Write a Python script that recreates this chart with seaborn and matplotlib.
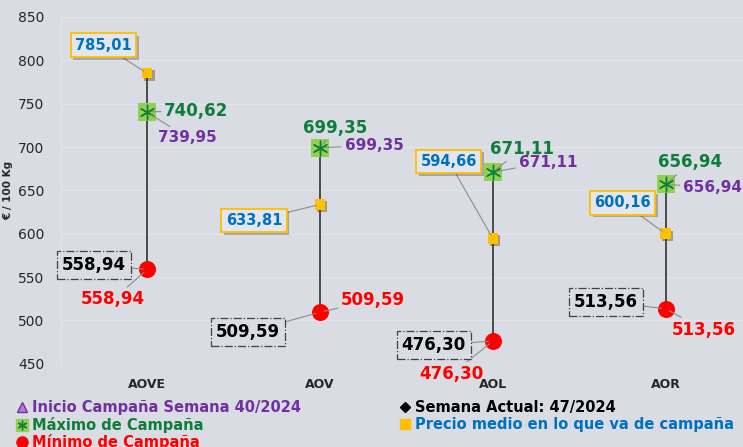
import matplotlib
matplotlib.use('Agg')
import matplotlib.pyplot as plt
import matplotlib.patheffects as pe
from matplotlib.lines import Line2D
import seaborn as sns

categorias = ['AOVE', 'AOV', 'AOL', 'AOR']
inicio = [739.95, 699.35, 671.11, 656.94]
actual = [558.94, 509.59, 476.30, 513.56]
maximo = [740.62, 699.35, 671.11, 656.94]
minimo = [558.94, 509.59, 476.30, 513.56]
medio = [785.01, 633.81, 594.66, 600.16]

BG = '#D9DCE3'
GRID = '#E2E4E9'
VERDE = '#0E7C3A'
MORADO = '#7030A0'
AZUL = '#0070C0'
ROJO = '#FF0000'
NARANJA = '#FFC000'

sns.set_style('whitegrid', {'axes.facecolor': BG, 'figure.facecolor': BG,
                            'grid.color': GRID, 'axes.edgecolor': GRID})
plt.rcParams['font.family'] = ['DejaVu Sans']

fig = plt.figure(figsize=(7.43, 4.47), dpi=100)
ax = fig.add_axes([0.082, 0.186, 0.93, 0.776])

# high-low line through all series
todos = [inicio, actual, maximo, minimo, medio]
bajos = [min(v) for v in zip(*todos)]
altos = [max(v) for v in zip(*todos)]
ax.vlines(range(len(categorias)), bajos, altos, color='#404040', lw=1.3, zorder=2)

sns.scatterplot(x=categorias, y=inicio, marker='^', s=90, color='#B07CE0',
                edgecolor=MORADO, linewidth=0.8, zorder=3, ax=ax)
sns.scatterplot(x=categorias, y=medio, marker='s', s=55, color=NARANJA,
                edgecolor=NARANJA, linewidth=0, zorder=4, ax=ax)
ax.collections[-1].set_path_effects([pe.SimplePatchShadow(offset=(1.5, -1.5), alpha=0.4), pe.Normal()])
sns.scatterplot(x=categorias, y=maximo, marker='s', s=150, color='#92D050',
                edgecolor='#92D050', linewidth=0, zorder=5, ax=ax)
sns.scatterplot(x=categorias, y=maximo, marker=(6, 2, 0), s=110, color=VERDE,
                edgecolor=VERDE, linewidth=1.0, zorder=6, ax=ax)
sns.scatterplot(x=categorias, y=actual, marker='D', s=40, color='black',
                edgecolor='black', zorder=6, ax=ax)
sns.scatterplot(x=categorias, y=minimo, marker='o', s=150, color=ROJO,
                edgecolor=ROJO, linewidth=0, zorder=7, ax=ax)


def fmt(v):
    return f'{v:.2f}'.replace('.', ',')


leader = dict(arrowstyle='-', color='#8C8C8C', lw=0.8, shrinkA=0, shrinkB=3)

off_medio = [(-44, 28), (-66, -16), (-44, 77), (-43, 31)]
off_max = [(49, 1), (15, 20), (29, 23), (25, 22)]
off_inicio = [(40, -25), (54, 2), (55, 10), (47, -3)]
off_min = [(-34, -30), (53, 12), (-41, -33), (38, -21)]
off_actual = [(-53, 4), (-72, -20), (-59, -4), (-60, 7)]

for i in range(len(categorias)):
    a = ax.annotate(fmt(medio[i]), (i, medio[i]), xytext=off_medio[i],
                    textcoords='offset pixels', ha='center', va='center',
                    color=AZUL, fontsize=10.5, fontweight='bold', zorder=8,
                    bbox=dict(boxstyle='square,pad=0.3', fc='#E3E6EC', ec=NARANJA, lw=1.3),
                    arrowprops=leader)
    a.get_bbox_patch().set_path_effects([pe.SimplePatchShadow(offset=(2, -2), alpha=0.35), pe.Normal()])
    ax.annotate(fmt(maximo[i]), (i, maximo[i]), xytext=off_max[i],
                textcoords='offset pixels', ha='center', va='center',
                color=VERDE, fontsize=12, fontweight='bold', zorder=8,
                arrowprops=leader)
    ax.annotate(fmt(inicio[i]), (i, inicio[i]), xytext=off_inicio[i],
                textcoords='offset pixels', ha='center', va='center',
                color=MORADO, fontsize=11, fontweight='bold', zorder=8,
                arrowprops=leader)
    ax.annotate(fmt(minimo[i]), (i, minimo[i]), xytext=off_min[i],
                textcoords='offset pixels', ha='center', va='center',
                color=ROJO, fontsize=12, fontweight='bold', zorder=8,
                arrowprops=leader)
    ax.annotate(fmt(actual[i]), (i, actual[i]), xytext=off_actual[i],
                textcoords='offset pixels', ha='center', va='center',
                color='black', fontsize=12, fontweight='bold', zorder=8,
                bbox=dict(boxstyle='square,pad=0.3', fc=BG, ec='#404040', lw=0.9, ls='-.'),
                arrowprops=leader)

ax.set_xlim(-0.5, 3.5)
ax.set_ylim(450, 850)
ax.set_yticks(range(450, 851, 50))
ax.grid(axis='x', visible=False)
ax.grid(axis='y', color=GRID, lw=0.9)
ax.tick_params(axis='y', labelsize=10, pad=12, length=0)
ax.tick_params(axis='x', labelsize=9, pad=10, length=0)
for t in ax.get_xticklabels():
    t.set_fontweight('bold')
for s in ['top', 'right', 'bottom']:
    ax.spines[s].set_visible(False)
ax.spines['left'].set_color(GRID)
ax.set_xlabel('')
ax.set_ylabel('€ / 100 Kg', fontsize=7.5, fontweight='bold', labelpad=3)

handles = [
    Line2D([], [], ls='', marker='^', ms=7, mfc='#B07CE0', mec=MORADO),
    (Line2D([], [], ls='', marker='s', ms=8, mfc='#92D050', mec='#92D050'),
     Line2D([], [], ls='', marker=(6, 2, 0), ms=7, mec=VERDE, mew=1)),
    Line2D([], [], ls='', marker='o', ms=8, mfc=ROJO, mec=ROJO),
    Line2D([], [], ls='', marker='D', ms=5, mfc='black', mec='black'),
    Line2D([], [], ls='', marker='s', ms=7, mfc=NARANJA, mec=NARANJA),
]
labels = ['Inicio Campaña Semana 40/2024', 'Máximo de Campaña', 'Mínimo de Campaña',
          'Semana Actual: 47/2024', 'Precio medio en lo que va de campaña']
colores = [MORADO, VERDE, ROJO, 'black', AZUL]
leg = fig.legend(handles, labels, loc='upper left', bbox_to_anchor=(0.012, 0.121),
                 ncol=2, frameon=False, handlelength=0.8, handletextpad=0.3,
                 columnspacing=6.7, labelspacing=0.1, borderpad=0,
                 prop={'weight': 'bold', 'size': 10.5})
for t, c in zip(leg.get_texts(), colores):
    t.set_color(c)

fig.savefig('out.png', dpi=100, facecolor=BG)
